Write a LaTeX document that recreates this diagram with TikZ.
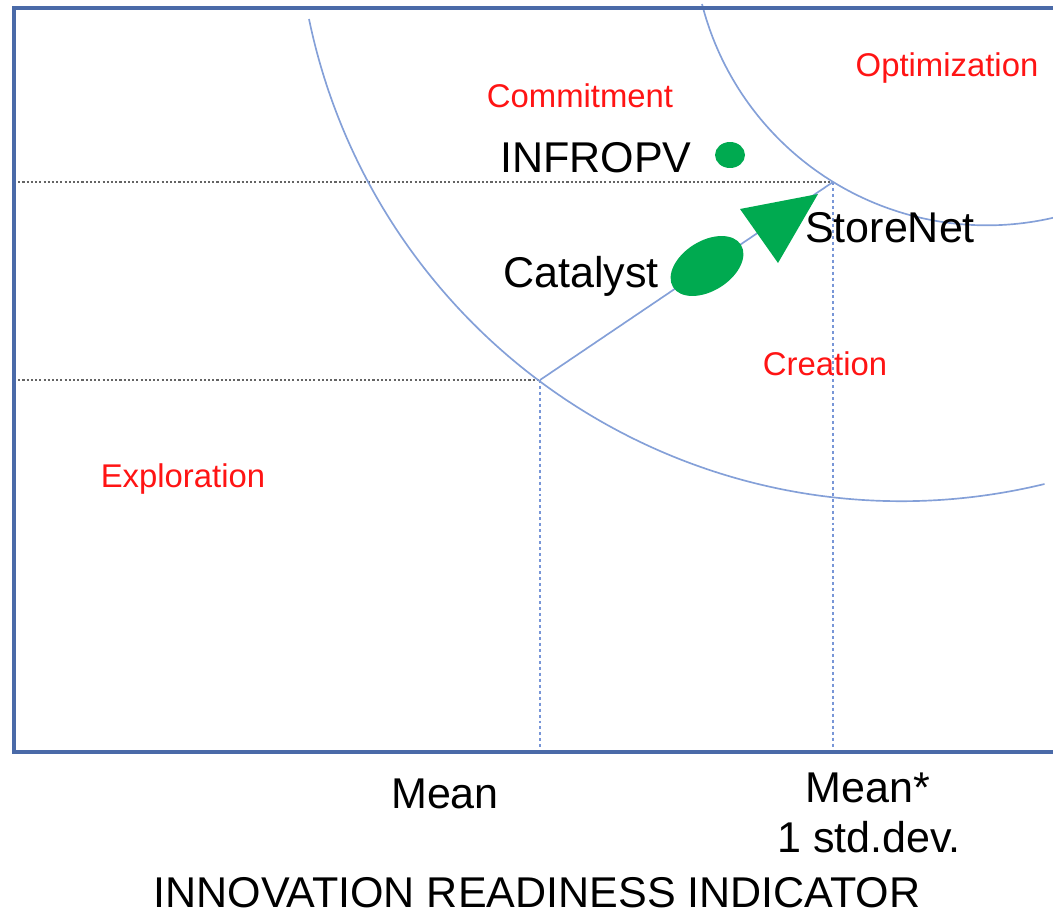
\documentclass[tikz,border=0pt]{standalone}
\usepackage{fontspec}
\setmainfont{Liberation Sans}
\usetikzlibrary{shapes.geometric}
\definecolor{framecol}{RGB}{74,106,168}
\definecolor{arccol}{RGB}{132,160,216}
\definecolor{dotgray}{RGB}{100,100,100}
\definecolor{dotblue}{RGB}{120,150,215}
\definecolor{mkgreen}{RGB}{0,170,80}
\definecolor{labred}{RGB}{255,20,20}

\begin{document}
\begin{tikzpicture}[x=0.02cm,y=-0.02cm,
	zonelbl/.style={text=labred,font=\fontsize{18.7}{22}\selectfont,anchor=base,inner sep=0pt},
	itemlbl/.style={font=\fontsize{24.5}{29}\selectfont,anchor=base,inner sep=0pt},
	itemdot/.style={ellipse,fill=mkgreen,inner sep=0pt},
	arcline/.style={draw=arccol,line width=0.95pt},
	guide/.style={draw=dotgray,line width=1.3pt,dash pattern=on 1.2pt off 1.2pt},
	vguide/.style={draw=dotblue,line width=0.9pt,dash pattern=on 1.7pt off 1.7pt}]
	\useasboundingbox (0,0) rectangle (1053,915);
	\clip (0,0) rectangle (1053,915);
	\coordinate (tl) at (14,8);
	\coordinate (bl) at (14,752);
	\coordinate (mean) at (540,380);
	\coordinate (sd) at (833,182);
	% guide lines
	\draw[guide] (mean -| tl) -- (mean);
	\draw[guide] (sd -| tl) -- (sd);
	\draw[vguide] (mean) -- (mean |- bl);
	\draw[vguide] (sd) -- (sd |- bl);
	\draw[arcline] (mean) -- (sd);
	\draw[arcline] (309,19) arc[start angle=191.7,end angle=283.7,radius=12.1cm];
	\draw[arcline] (702,4) arc[start angle=194.3,end angle=300,radius=5.88cm];
	% frame
	\draw[framecol,line width=1.9pt] (1053,8) -- (tl) -- (bl) -- (1053,752);
	% markers
	\node[itemdot,minimum width=0.6cm,minimum height=0.52cm] (infdot) at (730,155) {};
	\node[itemdot,minimum width=1.6cm,minimum height=1cm,rotate=32] (catdot) at (707,266) {};
	\fill[mkgreen] (740,209) -- (818,194) -- (778,263) -- cycle;
	% labels
	\node[itemlbl] (inf) at (596,173) {INFROPV};
	\node[itemlbl] (cat) at (581,287) {Catalyst};
	\node[itemlbl] (store) at (890,243) {StoreNet};
	\node[zonelbl] (opt) at (947,77) {Optimization};
	\node[zonelbl] (comm) at (580,108) {Commitment};
	\node[zonelbl] (crea) at (825,375) {Creation};
	\node[zonelbl] (expl) at (183,487) {Exploration};
	\node[itemlbl] (mlbl) at (445,808) {Mean};
	\node[itemlbl] (sdlbl) at (868,802) {Mean*};
	\node[itemlbl] (sdlbl2) at (869,852) {1 std.dev.};
	\node[itemlbl] (axis) at (537,907) {INNOVATION READINESS INDICATOR};
\end{tikzpicture}
\end{document}
